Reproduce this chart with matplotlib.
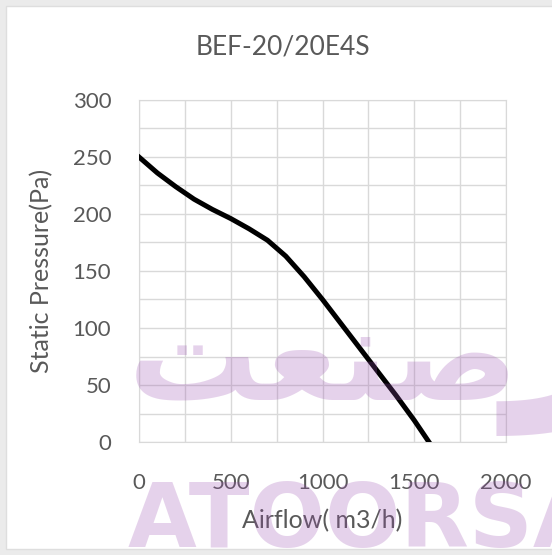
import matplotlib
matplotlib.use('Agg')
import matplotlib.pyplot as plt
from matplotlib.patches import Rectangle

# fan curve
airflow = [0, 100, 200, 300, 400, 500, 600, 700, 800, 900, 1000, 1100, 1200, 1300, 1400, 1500, 1580]
pressure = [250, 236, 224, 213, 204, 196, 187, 177, 163, 145, 125, 104, 83, 62, 41, 19, 0]

x_ticks = [0, 500, 1000, 1500, 2000]
y_ticks = [0, 50, 100, 150, 200, 250, 300]

title = 'BEF-20/20E4S'
x_label = 'Airflow( m3/h)'
y_label = 'Static Pressure(Pa)'

plt.rcParams['font.family'] = ['Lato', 'DejaVu Sans']
grey = '#595959'
grid_col = '#d9d9d9'

fig = plt.figure(figsize=(5.52, 5.55), dpi=100)
fig.patch.set_facecolor('#ebebeb')
fig.patches.append(Rectangle((6 / 552, 0.01), 1, 0.98, transform=fig.transFigure,
                             facecolor='white', edgecolor='#dedede', lw=1, zorder=-5))

ax = fig.add_axes([139 / 552, 1 - 442 / 555, (506 - 139) / 552, (442 - 100) / 555])
ax.set_zorder(2)
ax.set_facecolor('white')
ax.plot(airflow, pressure, color='black', lw=3.6, solid_joinstyle='round', zorder=3)

ax.set_xlim(0, 2000)
ax.set_ylim(0, 300)
ax.set_xticks(x_ticks)
ax.set_yticks(y_ticks)
ax.set_xticks(range(250, 2000, 500), minor=True)
ax.set_yticks(range(25, 300, 50), minor=True)
ax.grid(True, which='both', color=grid_col, lw=1)
ax.set_axisbelow(True)
for s in ax.spines.values():
    s.set_color(grid_col)
ax.tick_params(which='both', length=0)
ax.tick_params(axis='x', pad=22, labelsize=16, labelcolor=grey)
ax.tick_params(axis='y', pad=20, labelsize=16, labelcolor=grey)

ax.set_xlabel(x_label, fontsize=18, color=grey, labelpad=12)
ax.set_ylabel(y_label, fontsize=18, color=grey, labelpad=14)
fig.text(283 / 552, 1 - 47 / 555, title, fontsize=19, color=grey, ha='center', va='center')

# watermark on top of everything
wm = '#9a4fb0'
fig.text(128 / 552, 1 - 547 / 555, 'ATOORSA', fontsize=64, fontweight='bold',
         family='DejaVu Sans', color=wm, alpha=0.25, ha='left', va='baseline', zorder=10)
fig.text(128 / 552, 1 - 400 / 555, '\ufe96\ufecc\ufee8\ufebb', fontsize=94,
         fontweight='bold', family='DejaVu Sans', color=wm, alpha=0.25,
         ha='left', va='baseline', zorder=10)
fig.text(508 / 552, 1 - 368 / 555, '\ufead', fontsize=200,
         fontweight='bold', family='DejaVu Sans', color=wm, alpha=0.25,
         ha='left', va='baseline', zorder=10)

fig.savefig('out.png', dpi=100)
